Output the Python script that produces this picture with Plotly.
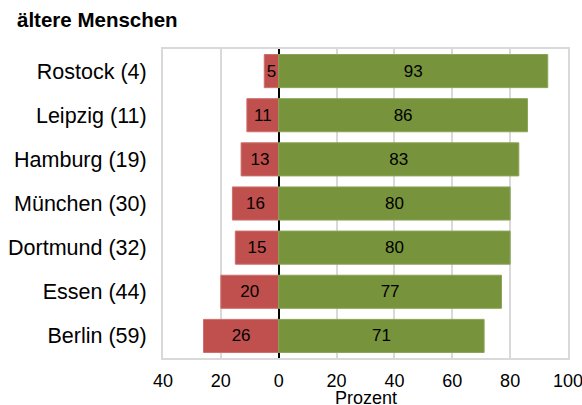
import plotly.graph_objects as go

staedte = ["Rostock (4)", "Leipzig (11)", "Hamburg (19)", "München (30)",
           "Dortmund (32)", "Essen (44)", "Berlin (59)"]
negativ = [5, 11, 13, 16, 15, 20, 26]
positiv = [93, 86, 83, 80, 80, 77, 71]
tick_werte = [-40, -20, 0, 20, 40, 60, 80, 100]
tick_text = ["40", "20", "0", "20", "40", "60", "80", "100"]

FONT = "Liberation Sans, Arial, sans-serif"

fig = go.Figure()

# negative Anteile nach links
fig.add_trace(go.Bar(
    y=staedte,
    x=[-v for v in negativ],
    orientation="h",
    marker=dict(color="#C0504D", line=dict(color="#CD6F6C", width=1)),
    text=[str(v) for v in negativ],
    textposition="inside",
    insidetextanchor="middle",
    textfont=dict(size=17, color="black", family=FONT),
    constraintext="none",
    name="negativ",
))

# positive Anteile nach rechts
fig.add_trace(go.Bar(
    y=staedte,
    x=positiv,
    orientation="h",
    marker=dict(color="#77933C", line=dict(color="#8AA656", width=1)),
    text=[str(v) for v in positiv],
    textposition="inside",
    insidetextanchor="middle",
    textfont=dict(size=17, color="black", family=FONT),
    constraintext="none",
    name="positiv",
))

fig.update_layout(
    width=582,
    height=405,
    barmode="relative",
    bargap=0.25,
    showlegend=False,
    plot_bgcolor="white",
    paper_bgcolor="white",
    font=dict(family=FONT, color="black"),
    margin=dict(l=163, r=14, t=49, b=47),
    title=dict(
        text="<b>ältere Menschen</b>",
        x=17 / 582, xanchor="left", xref="container",
        y=1 - 20 / 405, yanchor="middle", yref="container",
        font=dict(size=20.5, color="black", family=FONT),
    ),
    xaxis=dict(
        range=[-40, 100],
        tickvals=tick_werte,
        ticktext=tick_text,
        tickfont=dict(size=18),
        ticklabeloverflow="allow",
        ticklabelstandoff=5,
        automargin=False,
        showgrid=True,
        gridcolor="#D9D9D9",
        gridwidth=2,
        zeroline=True,
        zerolinecolor="black",
        zerolinewidth=2,
        showline=True,
        linecolor="#D9D9D9",
        linewidth=2,
        mirror=True,
        ticks="",
    ),
    yaxis=dict(
        categoryorder="array",
        categoryarray=staedte,
        autorange="reversed",
        tickfont=dict(size=21.5),
        automargin=False,
        showgrid=False,
        showline=True,
        linecolor="#D9D9D9",
        linewidth=2,
        mirror=True,
        ticks="",
        ticklabelstandoff=10,
    ),
    annotations=[
        # Achsentitel als Annotation, damit er wie im Original am unteren Rand sitzt
        dict(
            text="Prozent",
            xref="paper", yref="paper",
            x=0.5, y=-40 / 309,
            xanchor="center", yanchor="middle",
            showarrow=False,
            font=dict(size=18, color="black"),
        )
    ],
)

# Seitenrand des Browsers entfernen, damit die Grafik bei 0/0 beginnt
fig.write_html(
    "out.html",
    config={"displayModeBar": False},
    post_script="document.body.style.margin='0';",
)
